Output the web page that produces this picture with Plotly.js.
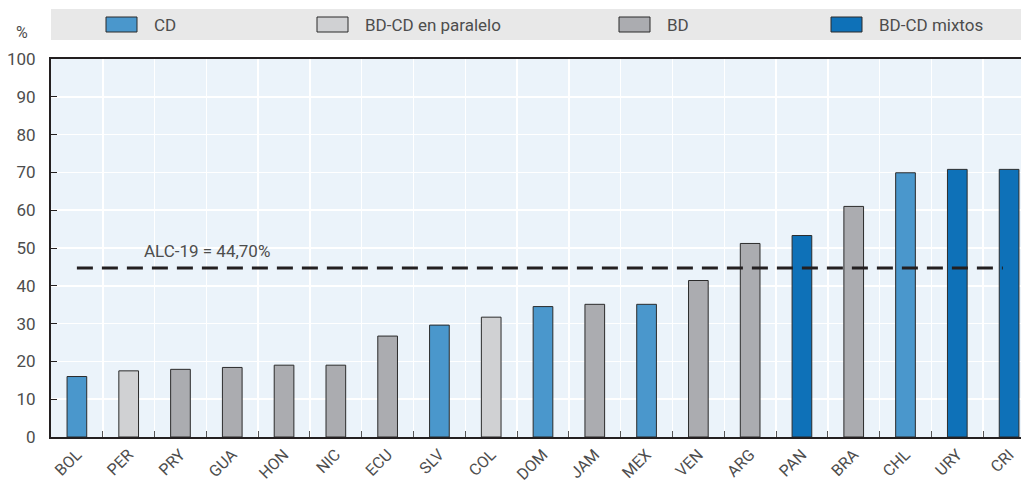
<!DOCTYPE html>
<html>
<head>
<meta charset="utf-8">
<script src="https://cdn.plot.ly/plotly-3.0.1.min.js"></script>
<style>html,body{margin:0;padding:0;background:#fff;}#chart{width:1021px;height:484px;}</style>
</head>
<body>
<div id="chart"></div>
<script>
// ---- data ----
const countries = ['BOL','PER','PRY','GUA','HON','NIC','ECU','SLV','COL','DOM','JAM','MEX','VEN','ARG','PAN','BRA','CHL','URY','CRI'];
const values = [16.0,17.5,17.9,18.4,19.0,19.0,26.7,29.6,31.7,34.5,35.1,35.1,41.4,51.2,53.3,61.0,69.9,70.8,70.8];
const groups = ['CD','BD-CD en paralelo','BD','BD','BD','BD','BD','CD','BD-CD en paralelo','CD','BD','CD','BD','BD','BD-CD mixtos','BD','CD','BD-CD mixtos','BD-CD mixtos'];
const groupNames = ['CD','BD-CD en paralelo','BD','BD-CD mixtos'];
const groupColors = ['#4A97CC','#D0D1D3','#ABACB0','#0E71B8'];
const avgValue = 44.7;
const avgLabel = 'ALC-19 = 44,70%';
const yTicks = [0,10,20,30,40,50,60,70,80,90,100];

// ---- geometry helpers (pixels -> paper) ----
const W = 1021, H = 484;
const M = {l: 51, r: 0, t: 59, b: 47};
const PW = W - M.l - M.r, PH = H - M.t - M.b;
const px = x => (x - M.l) / PW;
const py = y => (H - M.b - y) / PH;
const xRange = [-0.5, 18.23];

const FONT = 'Roboto, "Liberation Sans Narrow", sans-serif';
const TXT = '#4D4D4D';

const traces = groupNames.map((g, gi) => {
  const xs = [], ys = [];
  countries.forEach((c, i) => { if (groups[i] === g) { xs.push(c); ys.push(values[i]); } });
  return {
    type: 'bar', name: g, x: xs, y: ys, width: 0.38,
    marker: {color: groupColors[gi], line: {color: '#2B2B2B', width: 1}},
    showlegend: false, hoverinfo: 'x+y'
  };
});
// empty helper trace so the boundary-grid axis exists
traces.unshift({type: 'scatter', x: [], y: [], xaxis: 'x2', yaxis: 'y', showlegend: false, hoverinfo: 'skip'});

// manual legend (band + swatches + labels)
const legendSwatchX = [106, 317, 619, 831];
const shapes = [
  {type: 'rect', xref: 'paper', yref: 'paper', x0: px(51), x1: px(1021), y0: py(40), y1: py(9),
   fillcolor: '#E8E8E8', line: {width: 0}, layer: 'below'}
];
const annotations = [];
groupNames.forEach((g, gi) => {
  const x0 = legendSwatchX[gi];
  shapes.push({type: 'rect', xref: 'paper', yref: 'paper', x0: px(x0), x1: px(x0 + 31), y0: py(32), y1: py(17),
    fillcolor: groupColors[gi], line: {color: '#2B2B2B', width: 1}});
  annotations.push({xref: 'paper', yref: 'paper', x: px(x0 + 46), y: py(25), xanchor: 'left', yanchor: 'middle',
    text: g, showarrow: false, font: {size: 17, color: TXT, family: FONT}});
});
// average line
shapes.push({type: 'line', xref: 'x', yref: 'y', x0: 0, x1: 17.88, y0: avgValue, y1: avgValue,
  line: {color: '#231F20', width: 3, dash: '16px,9px'}});
annotations.push({xref: 'paper', yref: 'y', x: px(142), y: avgValue + 4.5, xanchor: 'left', yanchor: 'middle',
  text: avgLabel, showarrow: false, font: {size: 17, color: TXT, family: FONT}});
annotations.push({xref: 'paper', yref: 'paper', x: px(22), y: py(33), xanchor: 'center', yanchor: 'middle',
  text: '%', showarrow: false, font: {size: 16, color: TXT, family: FONT}});

const layout = {
  width: W, height: H,
  margin: M,
  paper_bgcolor: '#FFFFFF', plot_bgcolor: '#EBF3FA',
  font: {family: FONT, color: TXT, size: 16},
  barmode: 'overlay',
  showlegend: false,
  xaxis: {
    type: 'category', categoryorder: 'array', categoryarray: countries,
    range: xRange,
    tickangle: -45, tickfont: {size: 16, color: TXT},
    ticks: '', showgrid: false,
    showline: true, linecolor: '#231F20', linewidth: 2, mirror: true,
    zeroline: false, fixedrange: true
  },
  xaxis2: {
    type: 'linear', overlaying: 'x', anchor: 'y', side: 'bottom',
    range: xRange, tick0: 0.5, dtick: 1,
    showticklabels: false,
    ticks: 'inside', ticklen: 6, tickcolor: '#555555', tickwidth: 1,
    showgrid: true, gridcolor: '#FFFFFF', gridwidth: 1.5,
    showline: false, zeroline: false, fixedrange: true
  },
  yaxis: {
    range: [0, 100], tickvals: yTicks, ticktext: yTicks.map(String),
    tickfont: {size: 17, color: TXT},
    ticks: 'inside', ticklen: 6, tickcolor: '#231F20', tickwidth: 1,
    ticklabelstandoff: 10,
    showgrid: true, gridcolor: '#FFFFFF', gridwidth: 1.5,
    showline: true, linecolor: '#231F20', linewidth: 2,
    zeroline: false, fixedrange: true
  },
  shapes: shapes,
  annotations: annotations
};

Plotly.newPlot('chart', traces, layout, {displayModeBar: false, staticPlot: true});
</script>
</body>
</html>
